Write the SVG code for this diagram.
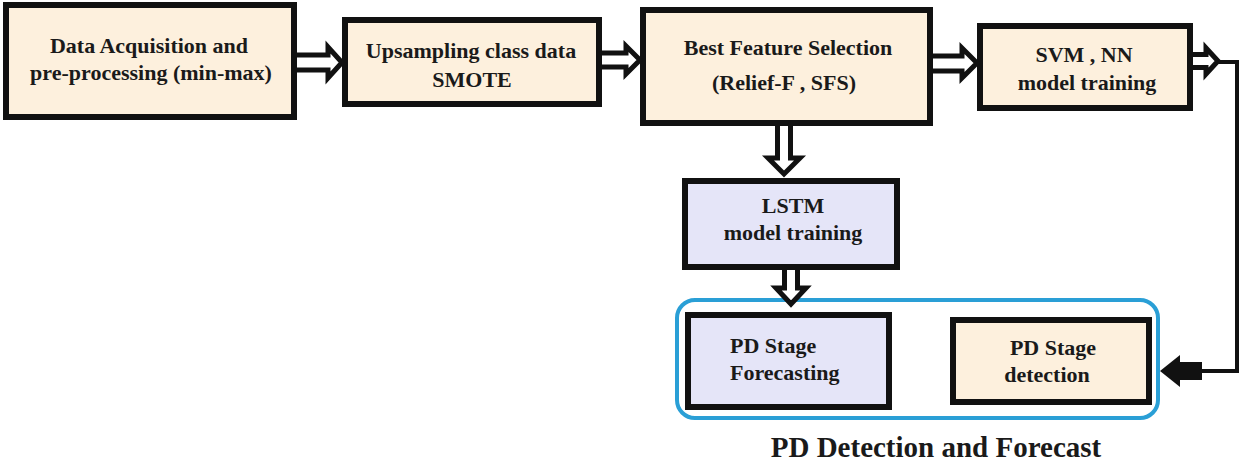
<svg xmlns="http://www.w3.org/2000/svg" width="1239" height="463" viewBox="0 0 1239 463">
<style>
.box{stroke:#111;stroke-width:6;}
.beige{fill:#fdf0dd;}
.lav{fill:#e5e5f8;}
.t{font-family:"Liberation Serif","Times New Roman",serif;font-weight:bold;font-size:22px;fill:#1a1a1a;text-anchor:middle;}
.tl{text-anchor:start;}
.title{font-size:29px;}
.hol{fill:#fff;stroke:#111;stroke-width:5;stroke-linejoin:miter;}
.ln{fill:none;stroke:#111;stroke-width:4;}
</style>
<rect width="1239" height="463" fill="#fff"/>

<g id="group-pd">
  <rect x="677" y="300" width="481" height="118" rx="18" fill="none" stroke="#2a9fd6" stroke-width="4"/>
  <text class="t title" x="936" y="457">PD Detection and Forecast</text>
</g>

<g id="n1">
  <rect class="box beige" x="6" y="5" width="288" height="112"/>
  <text class="t" x="149" y="53">Data Acquisition  and</text>
  <text class="t" x="151" y="80">pre-processing (min-max)</text>
</g>
<g id="n2">
  <rect class="box beige" x="345" y="20" width="254" height="84"/>
  <text class="t" x="471" y="58">Upsampling class data</text>
  <text class="t" x="472" y="87">SMOTE</text>
</g>
<g id="n3">
  <rect class="box beige" x="643" y="10" width="287" height="113"/>
  <text class="t" x="788" y="55">Best Feature Selection</text>
  <text class="t" x="784" y="90">(Relief-F , SFS)</text>
</g>
<g id="n4">
  <rect class="box beige" x="980" y="26" width="210" height="82"/>
  <text class="t" x="1084" y="62">SVM ,  NN</text>
  <text class="t" x="1087" y="90">model training</text>
</g>
<g id="n5">
  <rect class="box lav" x="685" y="181" width="212" height="86"/>
  <text class="t" x="793" y="213">LSTM</text>
  <text class="t" x="793" y="240">model training</text>
</g>
<g id="n6">
  <rect class="box lav" x="688" y="315" width="201" height="92"/>
  <text class="t tl" x="730" y="353">PD Stage</text>
  <text class="t tl" x="730" y="380">Forecasting</text>
</g>
<g id="n7">
  <rect class="box beige" x="953" y="320" width="196" height="82"/>
  <text class="t" x="1053" y="355">PD Stage</text>
  <text class="t" x="1047" y="382">detection</text>
</g>

<g id="connectors">
  <path class="hol" d="M297,55 H328 V47 L342,62.5 L328,78 V70 H297"/>
  <path class="hol" d="M602,53 H626 V46 L640,60 L626,74 V67 H602"/>
  <path class="hol" d="M933,56 H962 V48 L977,63 L962,78 V71 H933"/>
  <path class="hol" d="M1193,54.5 H1206 V48 L1218,61 L1206,74 V67.5 H1193"/>
  <path class="ln" d="M1218,62 H1237 V371 H1200"/>
  <polygon fill="#111" points="1202,362 1180,362 1180,355 1160,371 1180,387 1180,380 1202,380"/>
  <path class="hol" d="M777.5,126 V158 H768 L784,174 L800,158 H790.5 V126"/>
  <path class="hol" d="M784.5,270 V288 H776 L791,304 L806,288 H797.5 V270"/>
</g>
</svg>
